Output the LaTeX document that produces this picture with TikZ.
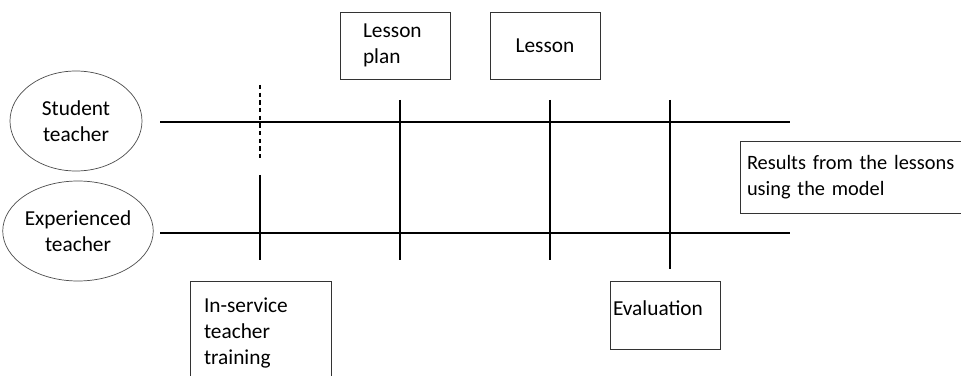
\documentclass[tikz,border=0pt]{standalone}
\usepackage{fontspec}
\setmainfont{Carlito}
\usetikzlibrary{shapes.geometric,positioning}
\newcommand\lblfont[1]{\fontsize{#1}{22}\selectfont\spaceskip=0.2em plus 0.05em\relax}

\begin{document}
\begin{tikzpicture}[x=0.03cm, y=-0.03cm,
  font=\lblfont{18.2},
  role/.style={draw=black!70, ellipse, inner sep=0pt, minimum height=3cm, align=center, line width=.6pt},
  box/.style={draw=black!80, rectangle, inner ysep=0pt, align=left, line width=.8pt},
  track/.style={draw=black, line width=1.5pt},
  tick/.style={draw=black, line width=1.4pt}
]
\useasboundingbox (0,0) rectangle (961,376);
% actors
\node[role, minimum width=3.96cm] (st) at (76,121) {Student\\teacher};
\node[role, minimum width=4.2cm] (ex) at (78,231) {Experienced\\teacher};
% time lines
\coordinate (st-w) at (160,122);
\coordinate (st-e) at (790,122);
\coordinate (ex-w) at (160,233);
\coordinate (ex-e) at (790,233);
\draw[track] (st-w)--(st-e);
\draw[track] (ex-w)--(ex-e);
% stages
\node[box, minimum width=3.3cm, minimum height=2.01cm, inner xsep=0.69cm, text width=1.92cm] (lp) at (395,45.5) {Lesson\\plan};
\node[box, minimum width=3.3cm, minimum height=2.01cm, align=center] (ls) at (545,45.5) {Lesson};
\node[box, minimum width=4.23cm, minimum height=3.12cm, inner xsep=0.42cm, text width=3.39cm] (it) at (260.5,333) {In-service\\teacher\\training};
\node[box, minimum width=3.3cm, minimum height=2.04cm, inner xsep=0.09cm, text width=3.12cm, text height=0.3cm, text depth=0.3cm] (ev) at (665,315) {Evaluation};
\node[box, minimum width=7.05cm, minimum height=2.16cm, inner xsep=0.21cm, text width=6.63cm,
  font=\lblfont{17.4}] (rs) at (857.5,177) {Results from the lessons\\using the model};
% crossing ticks
\coordinate (it-t) at (260,85);
\coordinate (it-m) at (260,160);
\coordinate (it-n) at (260,175);
\coordinate (it-b) at (260,260);
\draw[tick, line width=1.1pt, dash pattern=on 0.13cm off 0.1cm] (it-t)--(it-m);
\draw[tick] (it-n)--(it-b);
\foreach \n/\x/\b in {lp/400/260, ls/550/260, ev/670/269}{
  \coordinate (\n-t) at (\x,100);
  \coordinate (\n-b) at (\x,\b);
  \draw[tick] (\n-t)--(\n-b);
}
\end{tikzpicture}
\end{document}
